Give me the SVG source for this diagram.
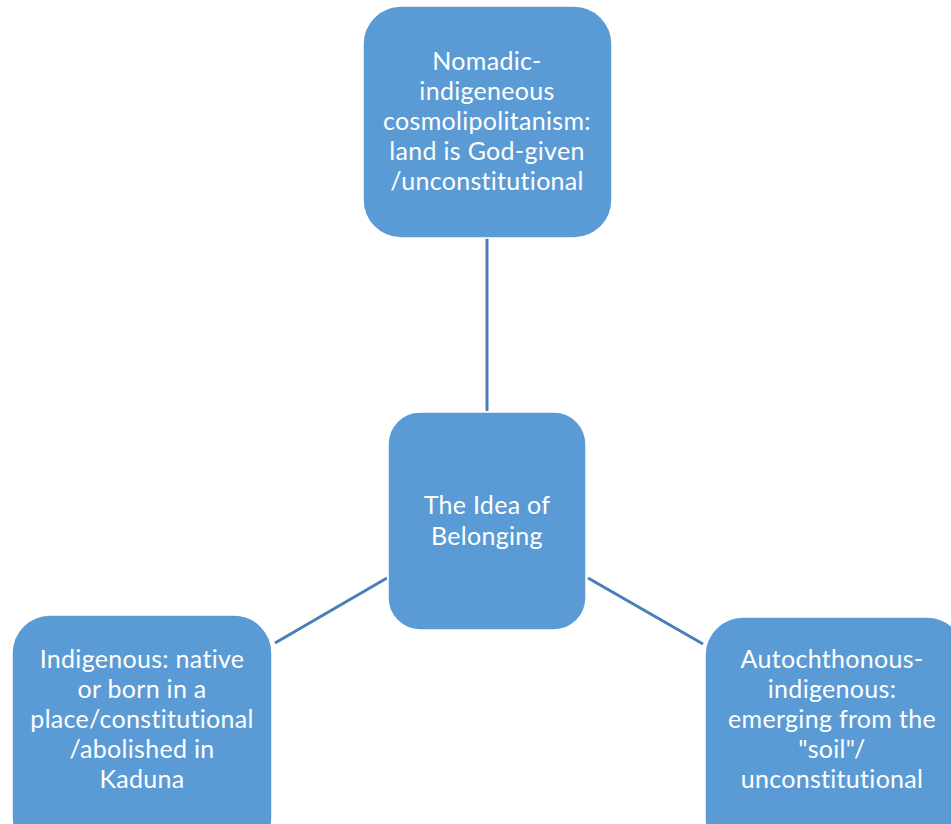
<svg xmlns="http://www.w3.org/2000/svg" width="951" height="824" viewBox="0 0 951 824">
<style>
.node{fill:#5B9BD5;stroke:#ffffff;stroke-width:1.5}
.lbl{font-family:Lato,"Open Sans","Liberation Sans",sans-serif;font-size:25px;letter-spacing:0.3px;fill:#ffffff;text-anchor:middle;font-variant-ligatures:none}
.conn{stroke:#4A7EBB;stroke-width:3;fill:none}
</style>
<rect width="951" height="824" fill="#ffffff"/>
<g id="connectors">
<line class="conn" x1="487" y1="238" x2="487" y2="411"/>
<line class="conn" x1="275" y1="643" x2="387" y2="578"/>
<line class="conn" x1="588" y1="578" x2="703" y2="644"/>
</g>
<g id="node-top">
<rect class="node" x="363" y="6" width="249" height="232" rx="38"/>
<text class="lbl"><tspan x="487" y="70">Nomadic-</tspan><tspan x="487" y="100">indigeneous</tspan><tspan x="487" y="130">cosmolipolitanism:</tspan><tspan x="487" y="160">land is God-given</tspan><tspan x="487" y="190">/unconstitutional</tspan></text>
</g>
<g id="node-center">
<rect class="node" x="388" y="412" width="198" height="218" rx="32"/>
<text class="lbl"><tspan x="487" y="514">The Idea of</tspan><tspan x="487" y="545">Belonging</tspan></text>
</g>
<g id="node-left">
<rect class="node" x="12" y="615" width="260" height="240" rx="38"/>
<text class="lbl"><tspan x="142" y="668">Indigenous: native</tspan><tspan x="142" y="698">or born in a</tspan><tspan x="142" y="728">place/constitutional</tspan><tspan x="142" y="758">/abolished in</tspan><tspan x="142" y="788">Kaduna</tspan></text>
</g>
<g id="node-right">
<rect class="node" x="705" y="617" width="260" height="240" rx="38"/>
<text class="lbl"><tspan x="832" y="668">Autochthonous-</tspan><tspan x="832" y="698">indigenous:</tspan><tspan x="832" y="728">emerging from the</tspan><tspan x="832" y="758">"soil"/</tspan><tspan x="832" y="788">unconstitutional</tspan></text>
</g>
</svg>
